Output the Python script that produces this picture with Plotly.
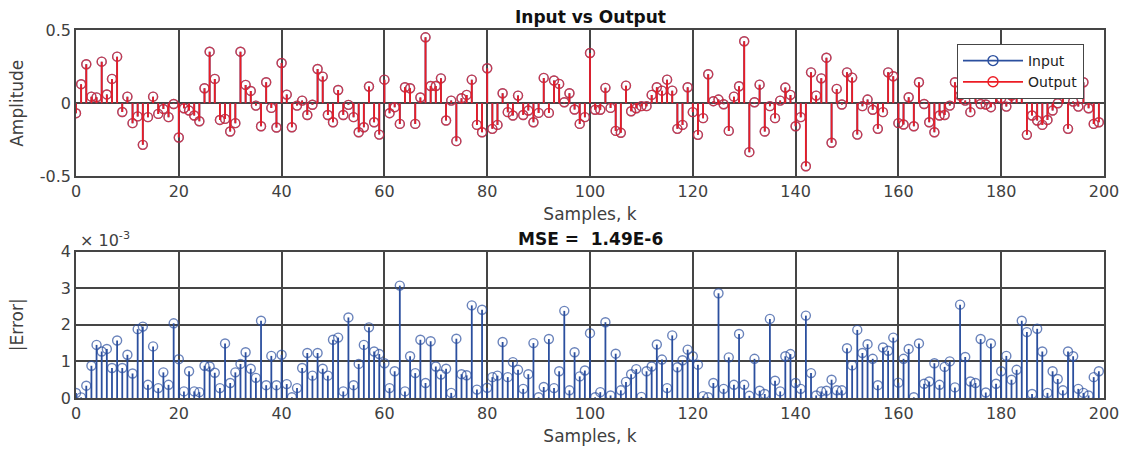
import plotly.graph_objects as go
from plotly.subplots import make_subplots

samples = list(range(200))

amplitude = [
    -0.068, 0.13, 0.266, 0.045, 0.04, 0.284, 0.06, 0.166, 0.318, -0.06,
    0.045, -0.136, -0.09, -0.284, -0.095, 0.045, -0.073, -0.039, -0.095, -0.005,
    -0.234, -0.034, -0.05, -0.084, -0.123, 0.102, 0.352, 0.166, -0.114, -0.107,
    -0.193, -0.136, 0.352, 0.125, 0.084, -0.016, -0.157, 0.143, -0.032, -0.166,
    0.275, 0.059, -0.164, -0.016, 0.018, -0.08, -0.01, 0.234, 0.182, -0.08,
    -0.13, 0.09, -0.08, -0.011, -0.095, -0.198, -0.164, 0.114, -0.13, -0.214,
    0.161, -0.068, -0.027, -0.141, 0.109, 0.102, -0.141, 0.039, 0.45, 0.118,
    0.118, 0.17, -0.118, 0.018, -0.259, 0.034, 0.057, 0.161, -0.148, -0.198,
    0.239, -0.175, -0.148, 0.068, -0.061, -0.084, 0.052, -0.08, -0.05, -0.13,
    -0.066, 0.173, -0.066, 0.155, 0.132, 0.007, 0.068, -0.043, -0.141, -0.095,
    0.343, -0.045, -0.045, 0.105, -0.032, -0.189, -0.202, 0.12, -0.055, -0.034,
    -0.02, -0.02, 0.057, 0.109, 0.086, 0.161, 0.086, -0.175, -0.148, 0.109,
    -0.061, -0.216, -0.102, 0.198, 0.014, 0.025, -0.007, -0.189, 0.045, 0.116,
    0.423, -0.334, 0.007, 0.127, -0.193, -0.02, -0.102, 0.018, 0.107, 0.057,
    -0.157, -0.095, -0.43, 0.211, 0.052, 0.17, 0.311, -0.27, 0.098, -0.009,
    0.211, 0.175, -0.214, -0.02, 0.025, -0.045, -0.175, -0.061, 0.211, 0.184,
    -0.136, -0.145, 0.041, -0.157, 0.143, -0.005, -0.13, -0.198, -0.084, -0.08,
    -0.016, 0.143, 0.052, 0.018, -0.061, 0.14, -0.005, -0.009, -0.027, 0.13,
    0.034, -0.023, 0.052, 0.12, 0.11, -0.216, -0.084, -0.118, -0.148, -0.114,
    -0.05, 0.0, 0.15, -0.175, 0.011, -0.023, 0.143, -0.034, -0.141, -0.13,
]
# input and output are visually indistinguishable at this scale
input_amp = amplitude
output_amp = amplitude

# |Error| in units of 1e-3
abs_error_e3 = [
    0.136, 0.018, 0.336, 0.88, 1.45, 1.27, 1.34, 0.82, 1.57, 0.82,
    1.18, 0.67, 1.88, 1.95, 0.36, 1.41, 0.27, 0.70, 0.36, 2.04,
    1.06, 0.18, 0.73, 0.18, 0.16, 0.88, 0.86, 0.69, 0.27, 1.49,
    0.41, 0.70, 0.93, 1.25, 0.80, 0.55, 2.11, 0.35, 1.15, 0.35,
    1.18, 0.38, 0.02, 0.27, 0.82, 1.23, 0.61, 1.23, 0.80, 0.61,
    1.59, 1.65, 0.18, 2.20, 0.35, 0.93, 1.45, 1.93, 1.27, 1.20,
    0.95, 0.27, 0.73, 3.07, 0.18, 1.14, 0.68, 1.59, 0.41, 1.55,
    0.86, 0.64, 0.80, 0.14, 1.62, 0.65, 0.62, 2.53, 0.23, 2.41,
    0.28, 0.57, 0.61, 1.53, 0.57, 0.98, 0.77, 0.25, 0.65, 1.50,
    0.02, 0.30, 1.61, 0.27, 0.73, 2.38, 0.21, 1.25, 0.59, 0.75,
    1.77, 0.02, 0.16, 2.07, 0.07, 1.21, 0.21, 0.44, 0.65, 0.79,
    0.03, 0.73, 0.86, 1.46, 1.05, 0.27, 1.71, 0.84, 1.03, 1.32,
    1.14, 0.91, 0.05, 0.02, 0.41, 2.86, 0.25, 1.11, 0.36, 1.75,
    0.36, 0.06, 1.07, 0.20, 0.11, 2.16, 0.47, 0.18, 1.14, 1.20,
    0.41, 0.25, 2.25, 0.68, 0.07, 0.18, 0.20, 0.50, 0.21, 0.21,
    1.36, 0.89, 1.86, 1.23, 1.47, 1.07, 0.35, 1.38, 1.29, 1.65,
    0.42, 1.07, 1.34, 0.02, 1.49, 0.39, 0.45, 0.95, 0.36, 0.85,
    1.00, 0.29, 2.55, 1.12, 0.45, 0.41, 1.61, 0.15, 1.49, 0.39,
    0.73, 1.15, 0.50, 0.77, 2.11, 1.80, 0.11, 1.89, 1.27, 0.14,
    0.73, 0.52, 0.21, 1.27, 1.14, 0.25, 0.14, 0.07, 0.57, 0.73,
]

x_ticks = [0, 20, 40, 60, 80, 100, 120, 140, 160, 180, 200]
top_y_ticks = [-0.5, 0, 0.5]
top_y_labels = ["-0.5", "0", "0.5"]
bot_y_ticks = [0, 1, 2, 3, 4]
bot_y_labels = ["0", "1", "2", "3", "4"]

BLUE = "#2b4f9e"
RED = "#ec1c24"
GRID = "#454545"
TXT = "#404040"
FONT = "DejaVu Sans, Verdana, sans-serif"


def stem_xy(xs, ys):
    sx, sy, sz = [], [], []
    for x, y in zip(xs, ys):
        sx += [x, x, None]
        sy += [0, y, None]
        sz += [0, 9, 0]
    return sx, sy, sz


fig = make_subplots(rows=2, cols=1, vertical_spacing=0.204)

for name, vals, color in [("Input", input_amp, BLUE), ("Output", output_amp, RED)]:
    sx, sy, sz = stem_xy(samples, vals)
    fig.add_trace(go.Scatter(
        x=sx, y=sy, mode="lines+markers", name=name, showlegend=False,
        line=dict(color=color, width=1.8),
        marker=dict(symbol="circle-open", size=sz, color=color, line=dict(width=1.4, color=color)),
        hoverinfo="skip",
    ), row=1, col=1)
    # legend entry
    fig.add_trace(go.Scatter(
        x=[None], y=[None], mode="lines+markers", name=name,
        line=dict(color=color, width=1.8),
        marker=dict(symbol="circle-open", size=10, color=color, line=dict(width=1.4, color=color)),
    ), row=1, col=1)

sx, sy, sz = stem_xy(samples, abs_error_e3)
fig.add_trace(go.Scatter(
    x=sx, y=sy, mode="lines+markers", name="|Error|", showlegend=False,
    line=dict(color=BLUE, width=1.8),
    marker=dict(symbol="circle-open", size=sz, color=BLUE, line=dict(width=1.4, color=BLUE)),
    hoverinfo="skip",
), row=2, col=1)

axis_common = dict(
    showline=True, mirror=True, linecolor=GRID, linewidth=1.5,
    showgrid=True, gridcolor=GRID, gridwidth=1.5,
    zeroline=False, ticks="", automargin=False,
    tickfont=dict(family=FONT, size=16, color=TXT),
)

for r in (1, 2):
    fig.update_xaxes(range=[0, 200], tickvals=x_ticks, **axis_common,
                     title=dict(text="Samples, k", font=dict(family=FONT, size=17, color=TXT), standoff=8),
                     row=r, col=1)

fig.update_yaxes(range=[-0.5, 0.5], tickvals=top_y_ticks, ticktext=top_y_labels, **axis_common,
                 title=dict(text="Amplitude", font=dict(family=FONT, size=17, color=TXT), standoff=12),
                 row=1, col=1)
fig.update_yaxes(range=[0, 4], tickvals=bot_y_ticks, ticktext=bot_y_labels, **axis_common,
                 title=dict(text="|Error|", font=dict(family=FONT, size=17, color=TXT), standoff=33),
                 row=2, col=1)

fig.update_layout(
    width=1122, height=450,
    margin=dict(l=76, r=18, t=30, b=52, autoexpand=False),
    paper_bgcolor="white", plot_bgcolor="white",
    font=dict(family=FONT, color=TXT),
    legend=dict(
        x=0.857, y=0.962, xanchor="left", yanchor="top",
        bgcolor="white", bordercolor=GRID, borderwidth=1,
        font=dict(family=FONT, size=14, color="#222"),
        itemwidth=60, tracegroupgap=0,
    ),
    annotations=[
        dict(text="<b>Input vs Output</b>", x=0.5, y=1.0, xref="paper", yref="paper",
             xanchor="center", yanchor="bottom", yshift=1, showarrow=False,
             font=dict(family=FONT, size=17, color="#111")),
        dict(text="<b>MSE =  1.49E-6</b>", x=0.5, y=0.3967, xref="paper", yref="paper",
             xanchor="center", yanchor="bottom", yshift=1, showarrow=False,
             font=dict(family=FONT, size=17, color="#111")),
        dict(text="× 10<sup>-3</sup>", x=0.0, y=0.3967, xref="paper", yref="paper",
             xanchor="left", yanchor="bottom", yshift=0, xshift=2, showarrow=False,
             font=dict(family=FONT, size=16, color=TXT)),
    ],
)

fig.write_html(
    "out.html",
    config={"displayModeBar": False, "responsive": False},
    post_script="document.documentElement.style.overflow='hidden';document.body.style.margin='0';document.body.style.overflow='hidden';",
)
